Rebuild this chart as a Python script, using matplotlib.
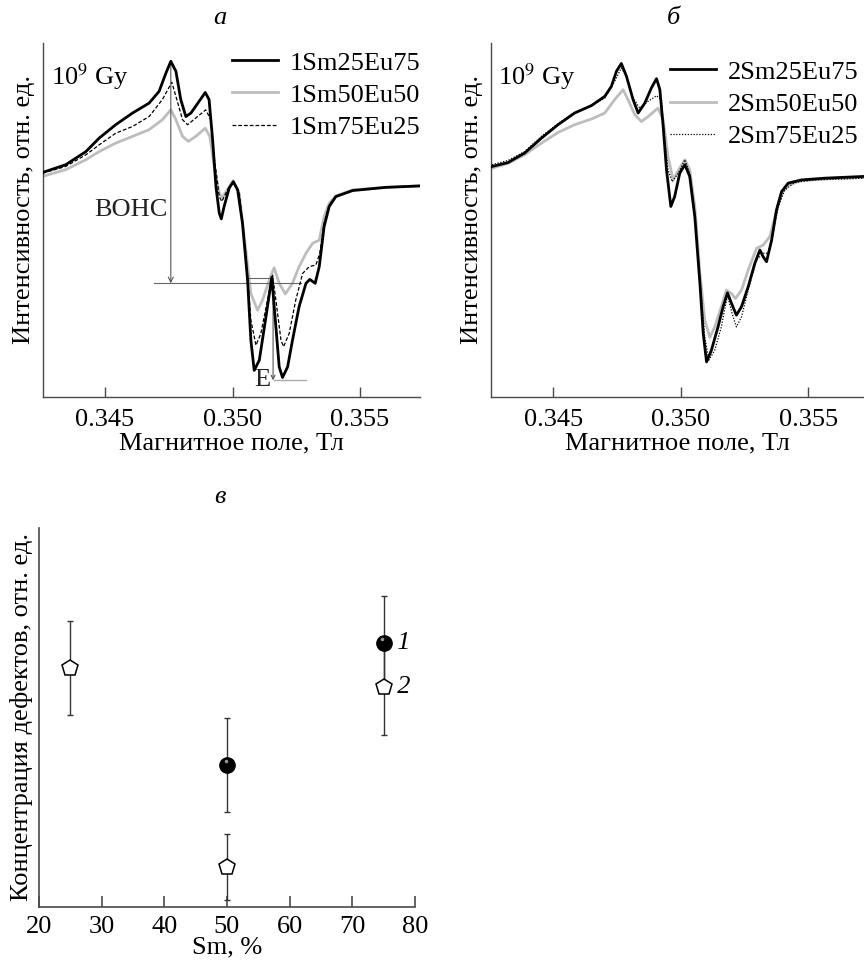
import matplotlib
matplotlib.use('Agg')
import matplotlib.pyplot as plt
from matplotlib.transforms import ScaledTranslation

plt.rcParams['font.family'] = ['Liberation Serif', 'DejaVu Serif']
plt.rcParams['mathtext.fontset'] = 'stix'
plt.rcParams['font.size'] = 19

# ---- panel a: samples 1 (field, T / intensity, arb. units)
a1_field = [0.34255, 0.34346, 0.34425, 0.34477, 0.34542, 0.34608, 0.34673, 0.34712, 0.34739, 0.34758,
            0.34778, 0.34797, 0.34817, 0.34837, 0.34869, 0.34893, 0.34908, 0.34922, 0.34935, 0.34948,
            0.34956, 0.34967, 0.34987, 0.35003, 0.35020, 0.35039, 0.35059, 0.35072, 0.35085, 0.35105,
            0.35131, 0.35154, 0.35170, 0.35183, 0.35196, 0.35216, 0.35235, 0.35261, 0.35288, 0.35303,
            0.35324, 0.35340, 0.35359, 0.35379, 0.35405, 0.35471, 0.35601, 0.35732]
a1_int = [0.634, 0.656, 0.693, 0.731, 0.769, 0.802, 0.830, 0.863, 0.915, 0.948,
          0.920, 0.840, 0.792, 0.802, 0.835, 0.860, 0.840, 0.726, 0.594, 0.519,
          0.503, 0.538, 0.590, 0.608, 0.585, 0.491, 0.330, 0.160, 0.075, 0.104,
          0.226, 0.338, 0.198, 0.085, 0.055, 0.085, 0.160, 0.255, 0.321, 0.332,
          0.321, 0.368, 0.481, 0.538, 0.566, 0.583, 0.592, 0.596]

a2_field = [0.34255, 0.34346, 0.34425, 0.34477, 0.34542, 0.34608, 0.34673, 0.34725, 0.34758, 0.34778,
            0.34804, 0.34827, 0.34856, 0.34893, 0.34911, 0.34928, 0.34948, 0.34961, 0.34987, 0.35003,
            0.35026, 0.35052, 0.35072, 0.35098, 0.35118, 0.35144, 0.35163, 0.35183, 0.35207, 0.35235,
            0.35261, 0.35288, 0.35314, 0.35340, 0.35359, 0.35379, 0.35405, 0.35471, 0.35601, 0.35732]
a2_int = [0.623, 0.642, 0.670, 0.693, 0.717, 0.736, 0.755, 0.783, 0.811, 0.783,
          0.736, 0.722, 0.736, 0.759, 0.736, 0.651, 0.575, 0.564, 0.594, 0.611,
          0.575, 0.415, 0.292, 0.245, 0.274, 0.330, 0.365, 0.321, 0.291, 0.321,
          0.368, 0.406, 0.434, 0.443, 0.509, 0.547, 0.568, 0.585, 0.592, 0.596]

a3_field = [0.34255, 0.34346, 0.34425, 0.34477, 0.34542, 0.34608, 0.34673, 0.34725, 0.34762, 0.34778,
            0.34804, 0.34824, 0.34856, 0.34895, 0.34915, 0.34928, 0.34948, 0.34958, 0.34980, 0.35003,
            0.35026, 0.35052, 0.35072, 0.35092, 0.35111, 0.35137, 0.35157, 0.35170, 0.35190, 0.35200,
            0.35222, 0.35248, 0.35275, 0.35301, 0.35327, 0.35342, 0.35359, 0.35379, 0.35405, 0.35471,
            0.35601, 0.35732]
a3_int = [0.632, 0.651, 0.684, 0.712, 0.745, 0.764, 0.792, 0.840, 0.889, 0.849,
          0.783, 0.769, 0.788, 0.811, 0.783, 0.679, 0.566, 0.552, 0.585, 0.608,
          0.580, 0.406, 0.217, 0.146, 0.179, 0.274, 0.344, 0.274, 0.160, 0.142,
          0.179, 0.274, 0.349, 0.368, 0.373, 0.406, 0.491, 0.542, 0.566, 0.583,
          0.592, 0.596]

# ---- panel b: samples 2
b1_field = [0.34260, 0.34323, 0.34388, 0.34454, 0.34519, 0.34584, 0.34650, 0.34702, 0.34728, 0.34748,
            0.34767, 0.34787, 0.34813, 0.34833, 0.34859, 0.34885, 0.34905, 0.34918, 0.34931, 0.34944,
            0.34961, 0.34976, 0.34996, 0.35016, 0.35035, 0.35055, 0.35075, 0.35088, 0.35101, 0.35120,
            0.35146, 0.35166, 0.35183, 0.35199, 0.35218, 0.35238, 0.35264, 0.35290, 0.35310, 0.35323,
            0.35336, 0.35356, 0.35375, 0.35395, 0.35421, 0.35473, 0.35565, 0.35722]
b1_int = [0.651, 0.662, 0.689, 0.731, 0.769, 0.802, 0.823, 0.849, 0.877, 0.920,
          0.942, 0.906, 0.840, 0.802, 0.830, 0.873, 0.899, 0.868, 0.764, 0.642,
          0.538, 0.566, 0.632, 0.656, 0.623, 0.509, 0.321, 0.179, 0.099, 0.132,
          0.198, 0.255, 0.294, 0.264, 0.231, 0.255, 0.311, 0.377, 0.415, 0.396,
          0.382, 0.443, 0.528, 0.580, 0.604, 0.613, 0.618, 0.623]

b2_field = [0.34260, 0.34323, 0.34388, 0.34454, 0.34519, 0.34584, 0.34650, 0.34702, 0.34741, 0.34774,
            0.34793, 0.34820, 0.34846, 0.34872, 0.34911, 0.34931, 0.34950, 0.34970, 0.34992, 0.35016,
            0.35035, 0.35055, 0.35075, 0.35094, 0.35114, 0.35133, 0.35159, 0.35179, 0.35199, 0.35214,
            0.35238, 0.35264, 0.35297, 0.35323, 0.35349, 0.35369, 0.35395, 0.35421, 0.35473, 0.35565,
            0.35722]
b2_int = [0.646, 0.660, 0.684, 0.717, 0.747, 0.769, 0.785, 0.802, 0.840, 0.868,
          0.840, 0.797, 0.778, 0.792, 0.816, 0.783, 0.679, 0.613, 0.642, 0.670,
          0.642, 0.538, 0.349, 0.217, 0.168, 0.198, 0.255, 0.302, 0.292, 0.278,
          0.302, 0.358, 0.420, 0.429, 0.453, 0.509, 0.575, 0.599, 0.611, 0.616,
          0.620]

b3_field = [0.34260, 0.34323, 0.34388, 0.34454, 0.34519, 0.34584, 0.34650, 0.34702, 0.34741, 0.34767,
            0.34787, 0.34813, 0.34839, 0.34872, 0.34905, 0.34924, 0.34937, 0.34950, 0.34966, 0.34990,
            0.35016, 0.35035, 0.35055, 0.35075, 0.35094, 0.35110, 0.35133, 0.35159, 0.35183, 0.35201,
            0.35218, 0.35238, 0.35264, 0.35297, 0.35323, 0.35342, 0.35362, 0.35382, 0.35408, 0.35447,
            0.35526, 0.35722]
b3_int = [0.656, 0.668, 0.693, 0.736, 0.772, 0.804, 0.823, 0.844, 0.892, 0.929,
          0.906, 0.844, 0.816, 0.835, 0.851, 0.840, 0.726, 0.642, 0.608, 0.632,
          0.670, 0.632, 0.519, 0.330, 0.170, 0.104, 0.132, 0.198, 0.288, 0.236,
          0.198, 0.226, 0.302, 0.387, 0.406, 0.406, 0.462, 0.538, 0.585, 0.606,
          0.613, 0.618]

# ---- panel c: defect concentration vs Sm content
sm_1 = [50, 75]
conc_1 = [0.373, 0.696]
err_1 = [0.124, 0.125]
sm_2 = [25, 50, 75]
conc_2 = [0.630, 0.106, 0.579]
err_2 = [0.125, 0.087, 0.125]

# annotation positions for BOHC / E markers in panel a
bohc_x, bohc_top, bohc_bot = 0.34758, 0.948, 0.321
e_x, e_top, e_bot = 0.35159, 0.335, 0.047

BLACK = 'black'
GRAY = '#bdbdbd'
AX = '#4a4a4a'

fig = plt.figure(figsize=(8.64, 9.6), dpi=100)
ax_a = fig.add_axes([0.0498, 0.5865, 0.4363, 0.3688])
ax_b = fig.add_axes([0.5679, 0.5865, 0.4321, 0.3688])
ax_c = fig.add_axes([0.0451, 0.0555, 0.4352, 0.3945])


def style_spectrum(ax):
    for s in ['top', 'right']:
        ax.spines[s].set_visible(False)
    for s in ['left', 'bottom']:
        ax.spines[s].set_color(AX)
        ax.spines[s].set_linewidth(1.0)
    ax.set_yticks([])
    ax.set_xticks([0.345, 0.350, 0.355])
    ax.set_xticklabels(['0.345', '0.350', '0.355'])
    ax.tick_params(axis='x', direction='in', length=7, width=1, color=AX, pad=9)
    ax.set_ylim(0, 1)
    ax.set_xlabel('Магнитное поле, Тл', labelpad=1)
    ax.set_ylabel('Интенсивность, отн. ед.', labelpad=4)
    ax.yaxis.set_label_coords(-0.02, 0.53)
    ax.yaxis.label.set_horizontalalignment('center')
    ax.text(0.02, 0.905, '10$^{9}$ Gy', transform=ax.transAxes, va='center', ha='left')


leg_kw = dict(loc='upper left', frameon=False, borderpad=0, borderaxespad=0,
              handlelength=1.75, handletextpad=0.45, labelspacing=0.33)

# panel a
ax_a.plot(a1_field, a1_int, color=BLACK, lw=2.0, label='1Sm25Eu75', zorder=4)
ax_a.plot(a2_field, a2_int, color=GRAY, lw=2.0, label='1Sm50Eu50', zorder=2)
ax_a.plot(a3_field, a3_int, color=BLACK, lw=0.9, dashes=(3, 1.6), label='1Sm75Eu25', zorder=3)
ax_a.set_xlim(0.34257, 0.35735)
style_spectrum(ax_a)
ax_a.legend(bbox_to_anchor=(0.5, 0.977), **leg_kw)

line_kw = dict(color='#666666', lw=0.8)
ax_a.annotate('', xy=(bohc_x, bohc_bot), xytext=(bohc_x, bohc_top),
              arrowprops=dict(arrowstyle='->', color='#555555', lw=0.8, mutation_scale=9,
                              shrinkA=0, shrinkB=0))
ax_a.plot([0.34693, 0.35268], [bohc_bot, bohc_bot], **line_kw)
ax_a.plot([0.35059, e_x], [e_top, e_top], **line_kw)
ax_a.annotate('', xy=(e_x, e_bot), xytext=(e_x, e_top),
              arrowprops=dict(arrowstyle='->', color='#555555', lw=0.8, mutation_scale=7,
                              shrinkA=0, shrinkB=0))
ax_a.plot([0.35163, 0.35290], [e_bot, e_bot], color='#aaaaaa', lw=1.0)
ax_a.text(0.34601, 0.528, 'BOHC', ha='center', va='center', color='#222222')
ax_a.text(0.35118, 0.047, 'E', ha='center', va='center', color='#222222')

# panel b
ax_b.plot(b1_field, b1_int, color=BLACK, lw=2.0, label='2Sm25Eu75', zorder=4)
ax_b.plot(b2_field, b2_int, color=GRAY, lw=2.0, label='2Sm50Eu50', zorder=2)
ax_b.plot(b3_field, b3_int, color=BLACK, lw=0.9, dashes=(1, 1.3), label='2Sm75Eu25', zorder=3)
ax_b.set_xlim(0.34255, 0.35718)
style_spectrum(ax_b)
ax_b.legend(bbox_to_anchor=(0.48, 0.951), **leg_kw)

# panel c
ax_c.errorbar(sm_2, conc_2, yerr=err_2, fmt='none', ecolor='#333333', elinewidth=1,
              capsize=2, capthick=1, zorder=2)
ax_c.errorbar(sm_1, conc_1, yerr=err_1, fmt='none', ecolor='#333333', elinewidth=1,
              capsize=2, capthick=1, zorder=2)
ax_c.plot(sm_2, conc_2, 'p', ms=12, mfc='white', mec='black', mew=1.1, zorder=3)
ax_c.plot(sm_1, conc_1, 'o', ms=11, mfc='black', mec='black', zorder=3)
shine = ax_c.transData + ScaledTranslation(-1 / 72, 3 / 72, fig.dpi_scale_trans)
ax_c.plot(sm_1, conc_1, 'o', ms=2.5, mfc='#9a9a9a', mec='none', transform=shine, zorder=4)
ax_c.text(sm_1[-1], conc_1[-1], '  1', style='italic', va='center', ha='left')
ax_c.text(sm_2[-1], conc_2[-1], '  2', style='italic', va='center', ha='left')

for s in ['top', 'right']:
    ax_c.spines[s].set_visible(False)
for s in ['left', 'bottom']:
    ax_c.spines[s].set_color(AX)
    ax_c.spines[s].set_linewidth(1.2)
ax_c.set_xlim(20, 80)
ax_c.set_ylim(0, 1)
ax_c.set_xticks([20, 30, 40, 50, 60, 70, 80])
ax_c.set_yticks([])
ax_c.tick_params(axis='x', direction='in', length=8, width=1.2, color=AX, pad=6.5)
ax_c.set_xlabel('Sm, %', labelpad=-1)
ax_c.set_ylabel('Концентрация дефектов, отн. ед.', labelpad=4)

fig.text(0.2546, 0.981, 'а', style='italic', ha='center', va='center')
fig.text(0.779, 0.981, 'б', style='italic', ha='center', va='center')
fig.text(0.2546, 0.482, 'в', style='italic', ha='center', va='center')

fig.savefig('out.png', dpi=100)
